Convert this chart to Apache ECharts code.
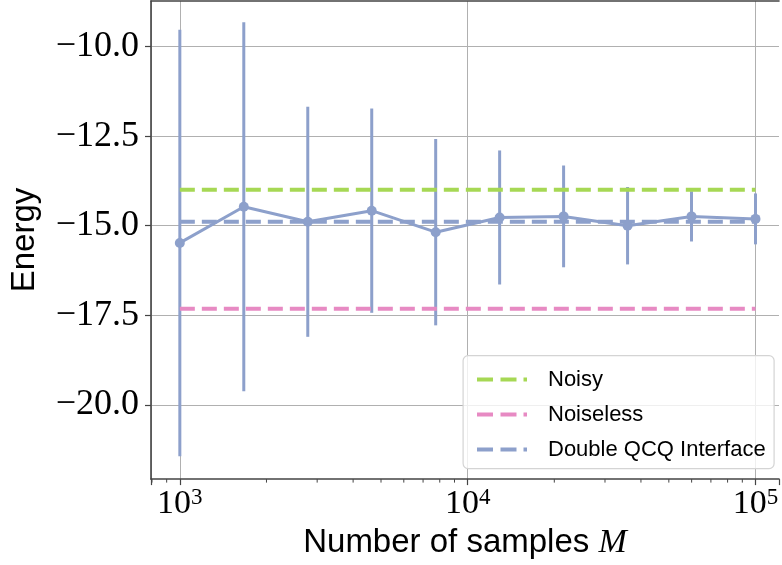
<!DOCTYPE html>
<html>
<head>
<meta charset="utf-8">
<script src="https://cdn.jsdelivr.net/npm/echarts@6/dist/echarts.min.js"></script>
<style>
  html, body { margin: 0; padding: 0; background: #ffffff; }
  #chart { width: 782px; height: 565px; }
</style>
</head>
<body>
<div id="chart"></div>
<script>
// Number of measurement samples (log-spaced from 10^3 to 10^5)
const samples = [1000, 1668, 2783, 4642, 7743, 12915, 21544, 35938, 59948, 100000];
// Estimated energy and its spread for each sample budget
const energyMean = [-15.48, -14.47, -14.89, -14.58, -15.18, -14.77, -14.74, -15.00, -14.74, -14.81];
const energyErr = [5.95, 5.15, 3.21, 2.85, 2.60, 1.87, 1.42, 1.08, 0.70, 0.71];
// Reference energies
const noisyLevel = -14.0;
const noiselessLevel = -17.32;
const interfaceLevel = -14.89;
// Axis ticks
const yTicks = [-20, -17.5, -15, -12.5, -10];
const minorTicks = [800, 900, 2000, 3000, 4000, 5000, 6000, 7000, 8000, 9000,
  20000, 30000, 40000, 50000, 60000, 70000, 80000, 90000];
const xRange = [794, 120700];
const yRange = [-22.07, -8.73];

const GREEN = '#a6d854';
const PINK = '#e78ac3';
const BLUE = '#8da0cb';
const SPINE = '#444444';
// dashed legend key, 50 x 4
const DASH_ICON = 'path://M0,0h16v4h-16z M23.5,0h16v4h-16z M46.5,0h3.5v4h-3.5z';

const chart = echarts.init(document.getElementById('chart'), null, { renderer: 'canvas' });

function powLabel(v) {
  const l = Math.log10(v);
  const e = Math.round(l);
  if (Math.abs(l - e) > 1e-6) return '';
  return '{base|10}{sup|' + e + '}';
}
function energyLabel(v) {
  if (!yTicks.some(t => Math.abs(t - v) < 1e-6)) return '';
  return (v < 0 ? '\u2212' : '') + Math.abs(v).toFixed(1);
}

const errData = samples.map((s, i) => [s, energyMean[i] - energyErr[i], energyMean[i] + energyErr[i]]);
const meanData = samples.map((s, i) => [s, energyMean[i]]);
const span = [samples[0], samples[samples.length - 1]];

function levelSeries(name, level, color) {
  return {
    name: name,
    type: 'line',
    data: [[span[0], level], [span[1], level]],
    symbol: 'none',
    lineStyle: { color: color, width: 4, type: [15, 7] },
    itemStyle: { color: color },
    z: 3,
    silent: true
  };
}

const option = {
  animation: false,
  backgroundColor: '#ffffff',
  grid: {
    left: 150, top: 1, right: 0, bottom: 84,
    show: false
  },
  xAxis: [{
    type: 'log',
    logBase: 10,
    min: xRange[0],
    max: xRange[1],
    splitNumber: 5,
    axisLine: { show: true, onZero: false, lineStyle: { color: SPINE, width: 1.6 } },
    axisTick: { show: true, inside: false, length: 6, lineStyle: { color: SPINE, width: 1.2 } },
    minorTick: { show: false },
    splitLine: { show: true, showMaxLine: false, lineStyle: { color: '#b0b0b0', width: 1 } },
    axisLabel: {
      margin: 7,
      formatter: powLabel,
      rich: {
        base: { fontFamily: 'Liberation Serif', fontSize: 34, color: '#000000', lineHeight: 36 },
        sup: { fontFamily: 'Liberation Serif', fontSize: 23, color: '#000000', verticalAlign: 'top', lineHeight: 36 }
      }
    },
    name: 'Number of samples {m|M}',
    nameLocation: 'middle',
    nameGap: 45,
    nameTextStyle: {
      fontFamily: 'Liberation Sans', fontSize: 33, color: '#000000',
      rich: { m: { fontFamily: 'Liberation Serif', fontStyle: 'italic', fontSize: 34, color: '#000000' } }
    }
  }, {
    // top frame line
    type: 'log',
    logBase: 10,
    position: 'top',
    min: xRange[0],
    max: xRange[1],
    axisLine: { show: true, onZero: false, lineStyle: { color: SPINE, width: 1.6 } },
    axisTick: { show: false },
    axisLabel: { show: false },
    splitLine: { show: false }
  }],
  yAxis: {
    type: 'value',
    min: yRange[0],
    max: yRange[1],
    minInterval: 2.5,
    maxInterval: 2.5,
    axisLine: { show: true, onZero: false, lineStyle: { color: SPINE, width: 1.6 } },
    axisTick: { show: true, inside: false, length: 6, customValues: yTicks, lineStyle: { color: SPINE, width: 1.2 } },
    splitLine: { show: true, lineStyle: { color: '#b0b0b0', width: 1 } },
    axisLabel: {
      margin: 12,
      customValues: yTicks,
      formatter: energyLabel,
      fontFamily: 'Liberation Serif', fontSize: 36, color: '#000000'
    },
    name: 'Energy',
    nameLocation: 'middle',
    nameGap: 110,
    nameTextStyle: { fontFamily: 'Liberation Sans', fontSize: 33, color: '#000000' }
  },
  legend: {
    data: [
      { name: 'Noisy', icon: DASH_ICON },
      { name: 'Noiseless', icon: DASH_ICON },
      { name: 'Double QCQ Interface', icon: DASH_ICON }
    ],
    orient: 'vertical',
    left: 472,
    top: 362,
    itemWidth: 50,
    itemHeight: 4,
    itemGap: 10,
    selectedMode: false,
    z: 10,
    textStyle: { fontFamily: 'Liberation Sans', fontSize: 22, lineHeight: 25, color: '#000000', padding: [0, 0, 0, 16] }
  },
  graphic: [{
    type: 'rect',
    left: 462.5,
    top: 355,
    z: 9,
    shape: { width: 311, height: 113, r: 5 },
    style: { fill: 'rgba(255,255,255,0.8)', stroke: '#d4d4d4', lineWidth: 1.2 }
  }],
  series: [
    {
      name: 'spread',
      type: 'custom',
      data: errData,
      encode: { x: 0, y: [1, 2] },
      z: 2,
      silent: true,
      renderItem: function (params, api) {
        const x = api.value(0);
        const p1 = api.coord([x, api.value(1)]);
        const p2 = api.coord([x, api.value(2)]);
        return {
          type: 'line',
          shape: { x1: p1[0], y1: p1[1], x2: p2[0], y2: p2[1] },
          style: { stroke: BLUE, lineWidth: 3 }
        };
      }
    },
    levelSeries('Noisy', noisyLevel, GREEN),
    levelSeries('Noiseless', noiselessLevel, PINK),
    levelSeries('Double QCQ Interface', interfaceLevel, BLUE),
    {
      name: 'estimate',
      type: 'line',
      data: meanData,
      symbol: 'circle',
      symbolSize: 10,
      lineStyle: { color: BLUE, width: 3 },
      itemStyle: { color: BLUE },
      z: 4,
      silent: true
    },
    {
      name: 'minor ticks',
      type: 'custom',
      data: minorTicks.map(v => [v, yRange[0]]),
      encode: { x: 0, y: 1 },
      clip: false,
      silent: true,
      z: 5,
      renderItem: function (params, api) {
        const p = api.coord([api.value(0), api.value(1)]);
        return {
          type: 'line',
          shape: { x1: p[0], y1: p[1], x2: p[0], y2: p[1] + 3.5 },
          style: { stroke: SPINE, lineWidth: 1 }
        };
      }
    }
  ]
};

chart.setOption(option);
</script>
</body>
</html>
